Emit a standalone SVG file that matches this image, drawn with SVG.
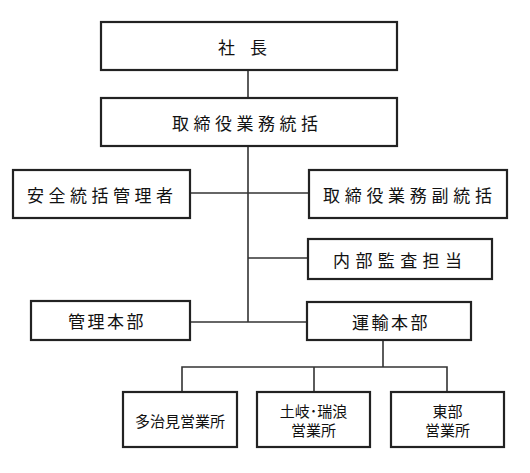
<svg xmlns="http://www.w3.org/2000/svg" width="530" height="473" viewBox="0 0 530 473">
<style>
.box{fill:#fff;stroke:#222;stroke-width:2.2}
.ln{fill:none;stroke:#333;stroke-width:1.6}
.t{font-family:"Noto Sans CJK JP","Noto Sans CJK SC",sans-serif;font-size:17px;fill:#111;dominant-baseline:central}
.s{font-family:"Noto Sans CJK JP","Noto Sans CJK SC",sans-serif;font-size:15px;fill:#111;dominant-baseline:central;text-anchor:middle}
</style>
<rect width="530" height="473" fill="#fff"/>
<g id="connectors">
<line class="ln" x1="248" y1="70" x2="248" y2="98"/>
<line class="ln" x1="248" y1="146" x2="248" y2="322"/>
<line class="ln" x1="190" y1="193" x2="309" y2="193"/>
<line class="ln" x1="248" y1="258" x2="308" y2="258"/>
<line class="ln" x1="190" y1="322" x2="307" y2="322"/>
<line class="ln" x1="383" y1="340" x2="383" y2="367"/>
<polyline class="ln" points="182,392 182,367 447,367 447,392"/>
<line class="ln" x1="314" y1="367" x2="314" y2="392"/>
</g>
<g id="president">
<rect class="box" x="101" y="22" width="296" height="48"/>
<text class="t" y="46"><tspan x="218">社</tspan><tspan x="250">長</tspan></text>
</g>
<g id="director">
<rect class="box" x="101" y="98" width="296" height="48"/>
<text class="t" x="172" y="122" letter-spacing="4.5">取締役業務統括</text>
</g>
<g id="safety">
<rect class="box" x="13" y="170" width="177" height="48"/>
<text class="t" x="27" y="194" letter-spacing="4.5">安全統括管理者</text>
</g>
<g id="vice">
<rect class="box" x="309" y="170" width="198" height="48"/>
<text class="t" x="323" y="194" letter-spacing="4.7">取締役業務副統括</text>
</g>
<g id="audit">
<rect class="box" x="308" y="239" width="184" height="40"/>
<text class="t" x="333" y="259" letter-spacing="5.4">内部監査担当</text>
</g>
<g id="admin">
<rect class="box" x="31" y="301" width="159" height="39"/>
<text class="t" x="68" y="320" letter-spacing="2.5">管理本部</text>
</g>
<g id="transport">
<rect class="box" x="307" y="302" width="164" height="38"/>
<text class="t" x="352" y="321" letter-spacing="2.5">運輸本部</text>
</g>
<g id="tajimi">
<rect class="box" x="123" y="392" width="114" height="55"/>
<text class="s" x="180" y="420">多治見営業所</text>
</g>
<g id="toki">
<rect class="box" x="257" y="392" width="113" height="55"/>
<text class="s" x="313.5" y="410">土岐･瑞浪</text>
<text class="s" x="313.5" y="429">営業所</text>
</g>
<g id="east">
<rect class="box" x="391" y="392" width="113" height="55"/>
<text class="s" x="447.5" y="410">東部</text>
<text class="s" x="447.5" y="429">営業所</text>
</g>
</svg>
